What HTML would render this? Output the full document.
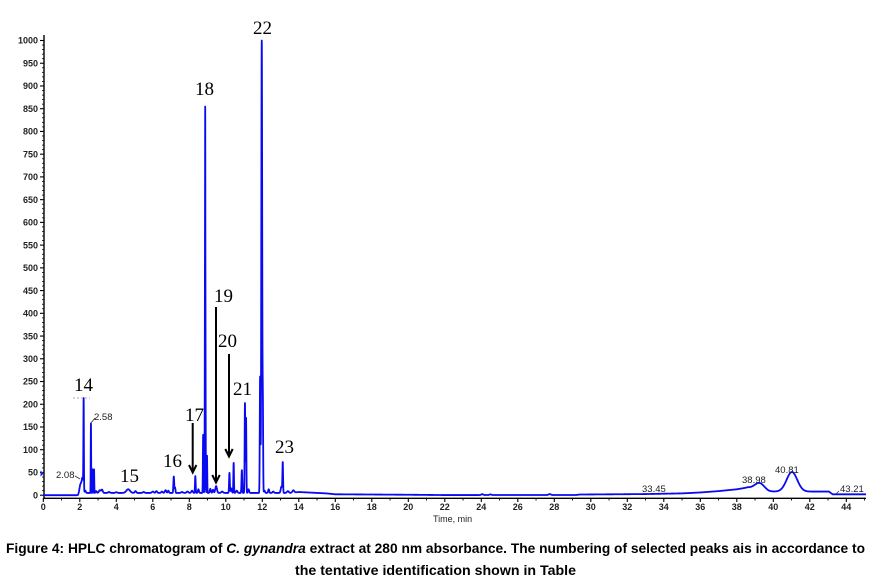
<!DOCTYPE html>
<html><head><meta charset="utf-8">
<style>
html,body{margin:0;padding:0;background:#fff;}
svg{display:block;}
.tk{font-family:"Liberation Sans",Arial,sans-serif;font-size:9px;font-weight:bold;fill:#222;}
.sm{font-family:"Liberation Sans",Arial,sans-serif;font-size:9.5px;fill:#222;}
.big{font-family:"Liberation Serif","Times New Roman",serif;font-size:19px;fill:#000;}
.cap{font-family:"Liberation Sans",Arial,sans-serif;font-size:14px;font-weight:bold;fill:#000;}
</style></head>
<body>
<svg id="s" width="874" height="586" viewBox="0 0 874 586" xmlns="http://www.w3.org/2000/svg">
<rect width="874" height="586" fill="#fff"/>
<g id="axes" stroke="#000" stroke-width="1.2" fill="none"></g>
<g id="labels"></g>
<path id="trace" d="" fill="none" stroke="#0a0af2" stroke-width="1.8" stroke-linejoin="round"/>
<polygon points="40.5,470.5 44,473.5 40.5,476.5" fill="#1a2ad0"/>
<line x1="73" y1="398" x2="90" y2="398" stroke="#aaa" stroke-width="1" stroke-dasharray="2,2"/>
<line x1="75" y1="476" x2="80" y2="479" stroke="#333" stroke-width="0.8"/>
<line x1="91" y1="423" x2="95" y2="418" stroke="#333" stroke-width="0.8"/>
<line x1="839" y1="491" x2="836" y2="494" stroke="#333" stroke-width="0.8"/>
<text class="sm" x="56" y="478">2.08</text>
<text class="sm" x="94" y="420">2.58</text>
<text class="sm" x="642" y="492">33.45</text>
<text class="sm" x="742" y="483">38.98</text>
<text class="sm" x="775" y="473">40.81</text>
<text class="sm" x="840" y="492">43.21</text>
<text class="big" x="74" y="391">14</text>
<text class="big" x="120" y="482">15</text>
<text class="big" x="163" y="467">16</text>
<text class="big" x="185" y="421">17</text>
<text class="big" x="195" y="95">18</text>
<text class="big" x="214" y="302">19</text>
<text class="big" x="218" y="347">20</text>
<text class="big" x="233" y="395">21</text>
<text class="big" x="253" y="34">22</text>
<text class="big" x="275" y="453">23</text>
<g stroke="#000" stroke-width="2" fill="none">
<line x1="192.7" y1="423" x2="192.7" y2="472"/>
<polyline points="189,465 192.7,472.5 196.4,465"/>
<line x1="216" y1="307" x2="216" y2="482"/>
<polyline points="212.3,475 216,482.5 219.7,475"/>
<line x1="229" y1="354" x2="229" y2="456"/>
<polyline points="225.3,449 229,456.5 232.7,449"/>
</g>
<text class="sm" x="433" y="522" style="font-size:9px">Time, min</text>
<text class="cap" x="6" y="553" textLength="859" lengthAdjust="spacingAndGlyphs">Figure 4: HPLC chromatogram of <tspan font-style="italic">C. gynandra</tspan> extract at 280 nm absorbance. The numbering of selected peaks ais in accordance to</text>
<text class="cap" x="295" y="575" textLength="281" lengthAdjust="spacingAndGlyphs">the tentative identification shown in Table</text>
</svg>
<script>
(function(){
var NS="http://www.w3.org/2000/svg";
function X(t){return 43.3+18.25*t;}
function Y(v){return 495.2-0.4547*v;}
var ax=document.getElementById('axes'), lb=document.getElementById('labels');
function ln(x1,y1,x2,y2,w){var l=document.createElementNS(NS,'line');l.setAttribute('x1',x1);l.setAttribute('y1',y1);l.setAttribute('x2',x2);l.setAttribute('y2',y2);if(w)l.setAttribute('stroke-width',w);ax.appendChild(l);}
function tx(x,y,s,anchor){var e=document.createElementNS(NS,'text');e.setAttribute('x',x);e.setAttribute('y',y);e.setAttribute('class','tk');if(anchor)e.setAttribute('text-anchor',anchor);e.textContent=s;lb.appendChild(e);}
ln(44,35,44,498.5,1.4);
for(var v=0;v<=1000;v+=10){
  var y=Y(v);
  if(v%50===0){ln(40,y,44,y,1.1);tx(38,y+3.2,String(v),'end');}
  else ln(42,y,44,y,0.8);
}
ln(43.5,498.3,866,498.3,1.4);
for(var t=0;t<=45;t+=1){
  var x=X(t);
  if(x>866)break;
  if(t%2===0){ln(x,498,x,502,1.1);tx(x,510,String(t),'middle');}
  else ln(x,498,x,500.5,0.9);
}
var base=[[0,0],[1.9,0],[2.0,5],[13.5,5],[14,7],[15,5],[15.5,4],[16,2],[18,1.5],[20,1],[22,0.3],[29.2,0.5],[29.4,1.5],[33,2.5],[35,4],[36,6],[37,9],[38,13],[38.6,17],[39.75,8],[41.8,8],[43.05,8],[43.25,2],[45.2,2]];
function bl(t){for(var i=0;i<base.length-1;i++){var a=base[i],b=base[i+1];if(t>=a[0]&&t<=b[0]){return a[1]+(b[1]-a[1])*(t-a[0])/(b[0]-a[0]);}}return 2;}
var pk=[
[2.05,20,0.06],[2.15,28,0.04],[2.21,200,0.013],[2.3,5,0.03],
[2.61,153,0.011],[2.70,52,0.012],[2.78,52,0.012],[2.9,4,0.03],
[3.1,6,0.05],[3.22,7,0.04],[3.6,2,0.05],[4.0,1.5,0.05],
[4.65,8,0.1],[5.05,4,0.04],[5.5,2,0.05],[6.0,3,0.05],[6.2,4,0.04],[6.5,3,0.04],[6.7,6,0.04],[6.85,5,0.03],
[7.15,36,0.022],[7.22,12,0.02],[7.6,2,0.05],[7.9,3,0.05],
[8.15,5,0.04],[8.33,37,0.018],[8.5,8,0.03],
[8.76,128,0.015],[8.87,685,0.017],[8.872,170,0.0045],[8.97,82,0.013],
[9.15,9,0.03],[9.3,7,0.03],[9.47,15,0.045],[9.8,3,0.05],
[10.2,44,0.02],[10.3,10,0.03],[10.43,66,0.016],[10.6,5,0.04],
[10.88,50,0.02],[11.05,198,0.017],[11.11,165,0.016],[11.25,8,0.03],
[11.88,255,0.018],[11.97,995,0.024],[12.03,180,0.016],
[12.12,5,0.03],[12.35,8,0.03],[12.6,3,0.04],
[13.05,14,0.04],[13.12,65,0.017],[13.4,4,0.05],[13.7,5,0.05],
[24.05,2,0.05],[24.5,1.5,0.05],[27.75,2,0.06],
[39.25,15,0.26],[41.02,43,0.29]
];
var d='';var first=true;
for(var t=0;t<=45.3;t+=0.003){
  var v=bl(t);
  for(var i=0;i<pk.length;i++){var p=pk[i];var z=(t-p[0])/p[2];if(z>-6&&z<6)v+=p[1]*Math.exp(-0.5*z*z);}
  if(v>1000)v=1000;
  var x=X(t);if(x>866)break;
  d+=(first?'M':'L')+x.toFixed(2)+' '+Y(v).toFixed(2);first=false;
}
document.getElementById('trace').setAttribute('d',d);
})();
</script>
</body></html>
